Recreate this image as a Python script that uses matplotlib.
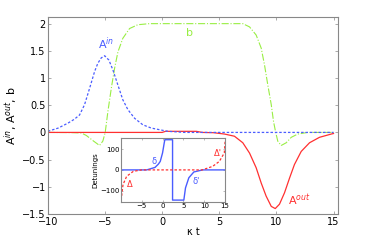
import numpy as np
import matplotlib
matplotlib.use("Agg")
import matplotlib.pyplot as plt

# ---- data ----
ain_t = [-10, -9.1, -8.25, -7.7, -7.23, -6.79, -6.35, -5.91, -5.63, -5.33, -5.03,
         -4.66, -4.31, -3.87, -3.44, -3.0, -2.41, -1.69, -0.95, -0.23, 0.5, 2.0, 15.0]
ain_v = [0.02, 0.08, 0.17, 0.24, 0.32, 0.51, 0.81, 1.12, 1.27, 1.37, 1.41,
         1.33, 1.15, 0.87, 0.60, 0.42, 0.26, 0.14, 0.08, 0.05, 0.02, 0.0, 0.0]

b_t = [-10, -8, -7.08, -6.64, -6.06, -5.48, -5.19, -4.98, -4.75, -4.45, -4.16,
       -3.87, -3.44, -2.85, -2.13, -1.1, 7.06, 7.65, 8.23, 8.67, 8.96, 9.25, 9.55,
       9.75, 9.92, 10.12, 10.42, 10.86, 11.3, 11.87, 12.75, 15]
b_v = [0, -0.003, -0.01, -0.055, -0.15, -0.24, -0.16, 0.0, 0.38, 0.81, 1.18,
       1.48, 1.73, 1.91, 1.98, 2.0, 2.0, 1.94, 1.79, 1.55, 1.24, 0.87, 0.51,
       0.2, 0.02, -0.16, -0.24, -0.19, -0.09, -0.03, 0.0, 0.0]

aout_t = [-10, 0, 0.3, 3, 3.5, 4.5, 5.46, 6.33, 7.06, 7.65, 8.23, 8.67, 9.1, 9.55,
          9.9, 10.27, 10.71, 11.15, 11.58, 12.17, 12.9, 13.77, 14.8, 15]
aout_v = [0, 0, 0.02, 0.02, 0.0, -0.005, -0.03, -0.07, -0.19, -0.38, -0.65, -0.93,
          -1.17, -1.36, -1.40, -1.32, -1.11, -0.84, -0.59, -0.35, -0.19, -0.09,
          -0.03, -0.02]

delta_t = [-10, -3.8, -1.8, -1.0, -0.55, 0.0, 0.4, 0.55, 2.4, 2.4, 5.1, 5.5, 6.3,
           7.5, 9.6, 15]
delta_v = [0, 0, 12, 28, 41, 82, 130, 146, 146, -146, -146, -87, -38, -10, 0, 0]

Delta_t = [-10, -9.9, -9.47, -8.6, -7, -5, 9.5, 12, 13.6, 14.8, 15]
Delta_v = [-146, -143, -71, -31, -7, 0, 0, 17, 41, 82, 140]

blue = '#4a5cff'
green = '#99ee44'
red = '#ff3030'
grey = '#888888'

fig = plt.figure(figsize=(3.74, 2.41), dpi=100)
ax = fig.add_axes([0.128, 0.112, 0.776, 0.817])

ax.plot(b_t, b_v, color=green, lw=0.8, ls='-.')
ax.plot(aout_t, aout_v, color=red, lw=0.9, ls='-')
ax.plot(ain_t, ain_v, color=blue, lw=0.9, ls=(0, (2, 1.5)))

ax.set_xlim(-10, 15.4)
ax.set_ylim(-1.5, 2.12)
ax.set_xticks([-10, -5, 0, 5, 10, 15])
ax.set_yticks([-1.5, -1, -0.5, 0, 0.5, 1, 1.5, 2])
ax.set_yticklabels(['\u22121.5', '\u22121', '\u22120.5', '0', '0.5', '1', '1.5', '2'])
ax.set_xticklabels(['\u221210', '\u22125', '0', '5', '10', '15'])
ax.tick_params(direction='in', length=2.5, width=0.5, labelsize=7, color=grey,
               top=True, right=True, pad=1.5)
ax.tick_params(axis='x', pad=2.5)
for s in ax.spines.values():
    s.set_color(grey)
    s.set_linewidth(0.8)
ax.set_xlabel('\u03ba t', fontsize=7, labelpad=0)
ax.set_ylabel('A$^{in}$, A$^{out}$, b', fontsize=8, labelpad=2)

ax.text(-5.6, 1.55, 'A$^{in}$', color=blue, fontsize=8)
ax.text(2.1, 1.78, 'b', color=green, fontsize=8)
ax.text(11.0, -1.33, 'A$^{out}$', color=red, fontsize=8)

# ---- inset ----
ins = fig.add_axes([0.323, 0.162, 0.279, 0.266])
ins.plot(delta_t, delta_v, color=blue, lw=1.0)
ins.plot(Delta_t, Delta_v, color=red, lw=0.9, ls=(0, (2, 1.5)))
ins.set_xlim(-10, 15)
ins.set_ylim(-155, 155)
ins.set_xticks([-5, 0, 5, 10, 15])
ins.set_xticklabels(['\u22125', '0', '5', '10', '15'])
ins.set_yticks([-100, 0, 100])
ins.set_yticklabels(['\u2212100', '0', '100'])
ins.tick_params(direction='in', length=1.5, width=0.4, labelsize=5, color=grey,
                top=True, right=True, pad=1)
for s in ins.spines.values():
    s.set_color(grey)
    s.set_linewidth(0.8)
ins.set_ylabel('Detunings', fontsize=5, labelpad=1)
ins.text(-2.6, 30, '\u03b4', color=blue, fontsize=6)
ins.text(7.2, -70, "\u03b4'", color=blue, fontsize=6)
ins.text(-8.5, -85, '\u0394', color=red, fontsize=6)
ins.text(12.4, 65, "\u0394'", color=red, fontsize=6)

fig.savefig('out.png', dpi=100)
